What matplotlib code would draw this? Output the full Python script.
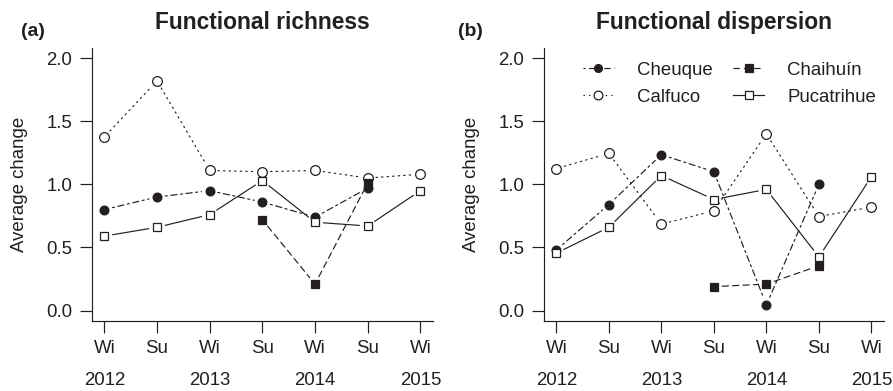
import numpy as np
import matplotlib
matplotlib.use("Agg")
import matplotlib.pyplot as plt
import matplotlib.transforms as mtransforms
from matplotlib.lines import Line2D
from matplotlib.ticker import FormatStrFormatter

plt.rcParams['font.family'] = ['Liberation Sans', 'DejaVu Sans']
plt.rcParams['lines.scale_dashes'] = False

nan = np.nan
season_labels = ['Wi', 'Su', 'Wi', 'Su', 'Wi', 'Su', 'Wi']
year_labels = ['2012', '2013', '2014', '2015']
site_names = ['Cheuque', 'Calfuco', 'Chaihuín', 'Pucatrihue']

rich_cheuque = [0.80, 0.90, 0.95, 0.86, 0.74, 0.97, nan]
rich_calfuco = [1.375, 1.82, 1.11, 1.10, 1.11, 1.05, 1.08]
rich_chaihuin = [nan, nan, nan, 0.72, 0.21, 1.01, nan]
rich_pucatrihue = [0.59, 0.66, 0.76, 1.03, 0.70, 0.67, 0.95]

disp_cheuque = [0.48, 0.84, 1.235, 1.10, 0.045, 1.00, nan]
disp_calfuco = [1.125, 1.245, 0.685, 0.79, 1.40, 0.745, 0.82]
disp_chaihuin = [nan, nan, nan, 0.19, 0.21, 0.355, nan]
disp_pucatrihue = [0.455, 0.66, 1.07, 0.88, 0.96, 0.425, 1.06]

INK = '#231f20'
FS = 13.4

styles = {
    'Cheuque': dict(ls=(0, (1.5, 2.5, 4.5, 2.5)), marker='o', mfc=INK, ms=6.3),
    'Calfuco': dict(ls=(0, (1, 3)), marker='o', mfc='white', ms=7.0),
    'Chaihuín': dict(ls=(0, (4.5, 3)), marker='s', mfc=INK, ms=5.8),
    'Pucatrihue': dict(ls='-', marker='s', mfc='white', ms=5.8),
}

panels = [
    ('Functional richness', '(a)', [rich_cheuque, rich_calfuco, rich_chaihuin, rich_pucatrihue]),
    ('Functional dispersion', '(b)', [disp_cheuque, disp_calfuco, disp_chaihuin, disp_pucatrihue]),
]

W, H = 893, 391
fig = plt.figure(figsize=(W / 100, H / 100), dpi=100)
ax_rects = [[91.7 / W, 1 - 320.7 / H, 341.3 / W, 272.7 / H],
            [543.7 / W, 1 - 320.7 / H, 340.3 / W, 272.7 / H]]
letter_x = [21 / W, 458 / W]
ylabel_x = [19.5 / W, 472 / W]

x_pos = np.arange(1, len(season_labels) + 1)

axes = []
for k, (title, letter, series) in enumerate(panels):
    ax = fig.add_axes(ax_rects[k])
    axes.append(ax)
    for name, y in zip(site_names, series):
        st = styles[name]
        y = np.asarray(y, dtype=float)
        for i in range(len(y) - 1):
            if np.isfinite(y[i]) and np.isfinite(y[i + 1]):
                ax.annotate('', xy=(x_pos[i + 1], y[i + 1]), xytext=(x_pos[i], y[i]),
                            xycoords='data',
                            arrowprops=dict(arrowstyle='-', shrinkA=6.0, shrinkB=6.0,
                                            lw=0.85, linestyle=st['ls'], color=INK))
        ax.plot(x_pos, y, ls='none', marker=st['marker'], mfc=st['mfc'], mec=INK,
                mew=0.9, ms=st['ms'], clip_on=False, zorder=3)

    ax.set_xlim(0.76, 7.24)
    ax.set_ylim(-0.08, 2.08)
    ax.set_yticks([0, 0.5, 1.0, 1.5, 2.0])
    ax.yaxis.set_major_formatter(FormatStrFormatter('%.1f'))
    ax.set_xticks(x_pos, season_labels)
    for s in ['top', 'right']:
        ax.spines[s].set_visible(False)
    for s in ['left', 'bottom']:
        ax.spines[s].set_color(INK)
        ax.spines[s].set_linewidth(0.85)
    ax.tick_params(direction='out', length=8.6, width=0.85, pad=5.5,
                   labelsize=FS, colors=INK)
    trans = mtransforms.blended_transform_factory(ax.transData, ax.transAxes)
    for pos, lab in zip(x_pos[::2], year_labels):
        ax.text(pos, -0.2175, lab, transform=trans, ha='center', va='center',
                fontsize=FS, color=INK, clip_on=False)
    ax.set_title(title, fontsize=16.4, fontweight='bold', pad=13.5, color=INK)
    fig.text(letter_x[k], 1 - 31.5 / H, letter, fontsize=14, fontweight='bold',
             ha='left', va='center', color=INK)
    fig.text(ylabel_x[k], 1 - 184.3 / H, 'Average change', rotation=90,
             ha='center', va='center', fontsize=FS, color=INK)

handles = []
for name in site_names:
    st = styles[name]
    handles.append(Line2D([], [], color=INK, lw=0.85, ls=st['ls'], marker=st['marker'],
                          mfc=st['mfc'], mec=INK, mew=0.9, ms=st['ms'] * 0.9))
leg = axes[1].legend(handles, site_names, ncol=2, frameon=False, loc='upper left',
                     bbox_to_anchor=(0.1155, 0.950), borderaxespad=0, borderpad=0,
                     fontsize=FS, handlelength=1.65, handletextpad=1.25,
                     columnspacing=1.1, labelspacing=0.55, numpoints=1)
for t in leg.get_texts():
    t.set_color(INK)

fig.savefig('out.png', dpi=100)
